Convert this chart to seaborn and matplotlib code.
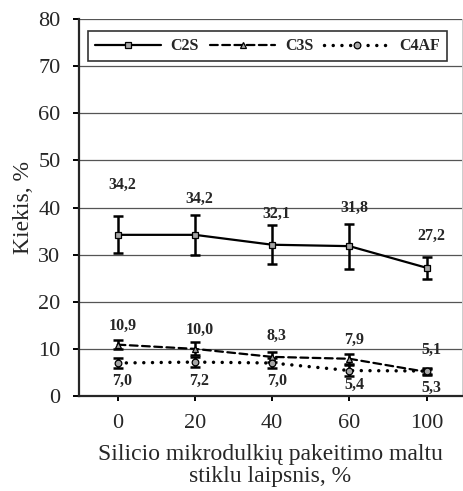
import numpy as np
import pandas as pd
import seaborn as sns
import matplotlib.pyplot as plt

# duomenys
categories = ["0", "20", "40", "60", "100"]
c2s = [34.2, 34.2, 32.1, 31.8, 27.2]
c2s_err = [3.9, 4.2, 4.1, 4.8, 2.4]
c3s = [10.9, 10.0, 8.3, 7.9, 5.1]
c3s_err = [1.0, 1.4, 1.1, 1.1, 0.6]
c4af = [7.0, 7.2, 7.0, 5.4, 5.3]
c4af_err = [1.0, 1.1, 1.0, 1.1, 0.6]

# etikeciu poslinkiai (virs / po tasku)
c2s_dy = [10.7, 7.6, 6.5, 8.1, 6.8]
c3s_dy = [3.9, 4.1, 4.4, 4.0, 4.6]
c4af_dy = [-3.8, -4.0, -3.8, -3.1, -3.6]

sns.set_style("ticks")
plt.rcParams['font.family'] = ['Liberation Serif', 'DejaVu Serif']

fig = plt.figure(figsize=(4.64, 4.91), dpi=100)
ax = fig.add_axes([79 / 464, 1 - 396 / 491, (462 - 79) / 464, (396 - 19) / 491])

pos = np.arange(len(categories))
series = [
    ("C2S", c2s, c2s_err, c2s_dy, 's', '-', 1.6),
    ("C3S", c3s, c3s_err, c3s_dy, '^', (0, (3.5, 2)), 1.6),
    ("C4AF", c4af, c4af_err, c4af_dy, 'o', (0, (0.01, 2.5)), 2.5),
]

handles = []
for name, vals, errs, dys, mk, ls, lw in series:
    ax.errorbar(pos, vals, yerr=errs, fmt='none', ecolor='black',
                elinewidth=1.8, capsize=3.5, capthick=1.8, zorder=3)
    df = pd.DataFrame({"x": pos, "y": vals})
    sns.lineplot(data=df, x="x", y="y", ax=ax, color='black', linestyle=ls,
                 linewidth=lw, marker=mk, markersize=4.8, markerfacecolor='#a6a6a6',
                 markeredgecolor='black', markeredgewidth=0.9, zorder=4)
    line = ax.lines[-1]
    line.set_dash_capstyle('round')
    handles.append(line)
    for x, v, dy in zip(pos, vals, dys):
        ax.text(x + 0.06, v + dy, f"{v:.1f}".replace('.', ','), ha='center', va='center',
                fontsize=11.5, fontweight='bold', zorder=5)

ax.set_xlim(-0.5, 4.457)
ax.set_ylim(0, 80)
ax.set_yticks(np.arange(0, 81, 10))
ax.set_xticks(pos)
ax.set_xticklabels(categories)
ax.yaxis.grid(True, color='#555555', linewidth=0.9)
ax.set_axisbelow(True)

ax.spines['top'].set_visible(False)
ax.spines['right'].set_color('#cccccc')
ax.spines['right'].set_linewidth(0.7)
ax.spines['left'].set_linewidth(1.6)
ax.spines['bottom'].set_linewidth(1.6)
ax.tick_params(axis='both', direction='out', labelsize=16, width=1.4, color='black')
ax.tick_params(axis='y', length=4.3, pad=9)
ax.tick_params(axis='x', length=3.8, pad=9)

ax.set_xlabel("Silicio mikrodulkių pakeitimo maltu\nstiklu laipsnis, %", fontsize=17,
              linespacing=1.05, labelpad=8)
ax.set_ylabel("Kiekis, %", fontsize=17, labelpad=3)

leg = ax.legend(handles, ["C2S", "C3S", "C4AF"], loc='upper left',
                bbox_to_anchor=(88 / 464, 1 - 31 / 491), bbox_transform=fig.transFigure,
                ncol=3, frameon=True, fancybox=False, handlelength=4.1, handletextpad=0.6,
                columnspacing=0.7, borderpad=0.45, borderaxespad=0,
                prop={'weight': 'bold', 'size': 11.5})
leg.get_frame().set_edgecolor('black')
leg.get_frame().set_linewidth(1.2)

fig.savefig("out.png", dpi=100)
